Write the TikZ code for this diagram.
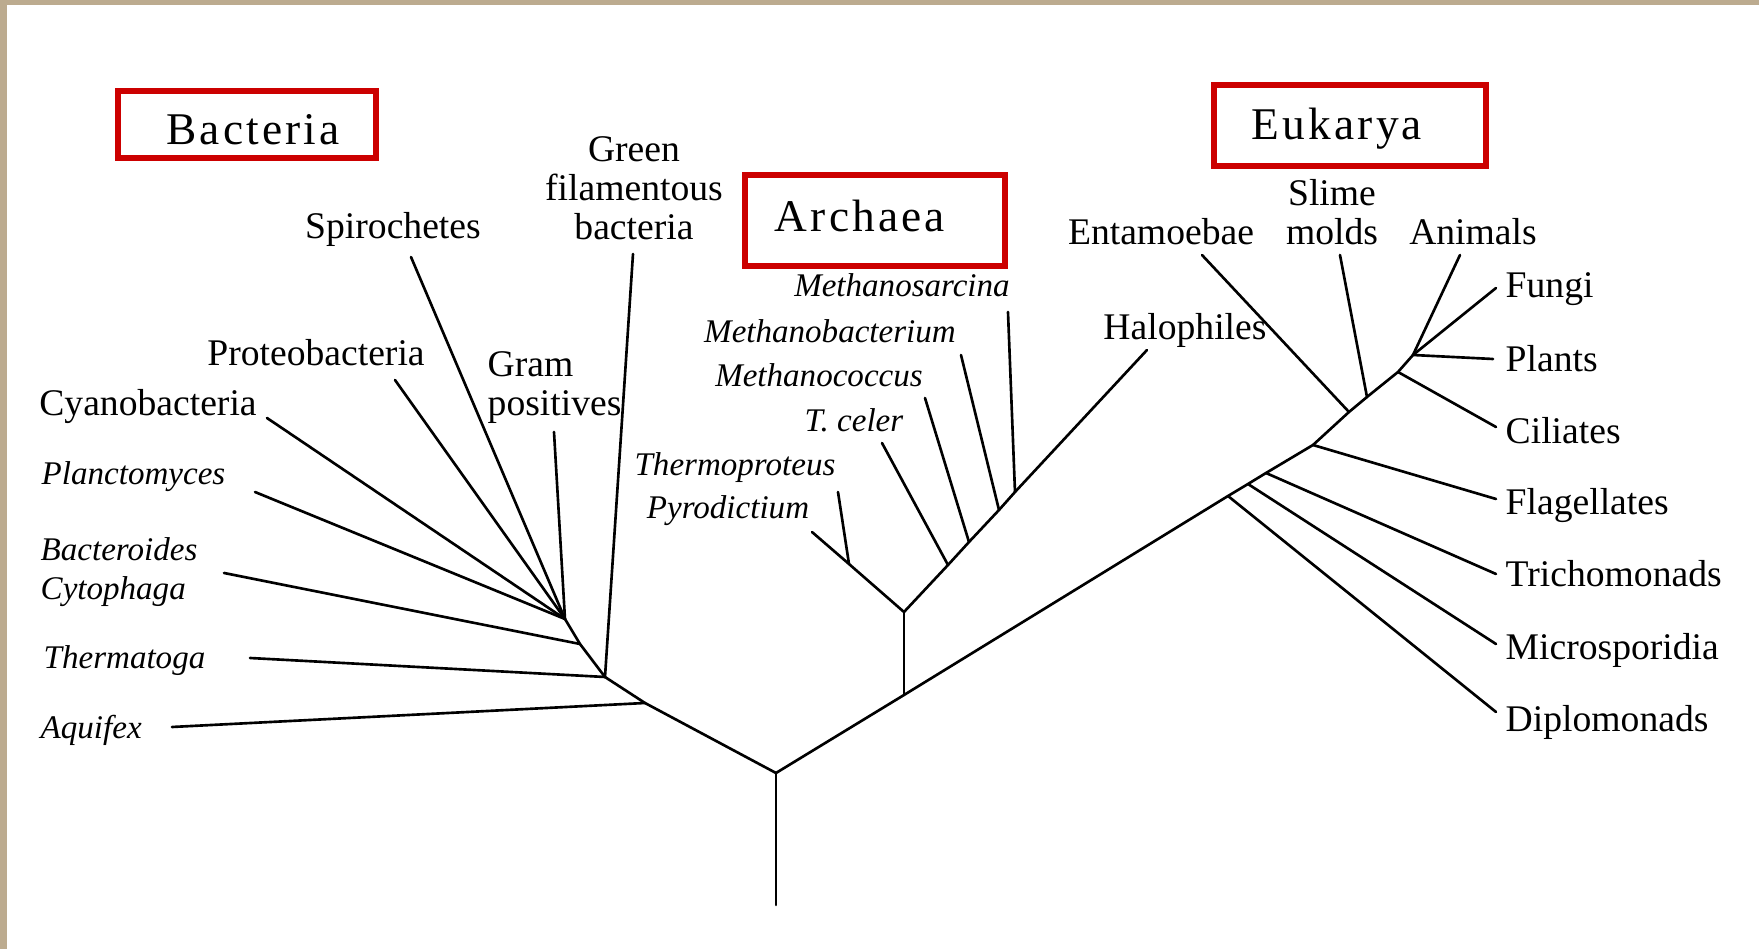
\documentclass[tikz,border=0pt]{standalone}
\usepackage{fontspec}
\setmainfont{Liberation Serif}
\newfontfamily\domainfont[LetterSpace=7]{Liberation Serif}
\usepackage{tikz}
\usepackage{xcolor}
\definecolor{tlRed}{HTML}{CC0000}
\definecolor{tlFrame}{HTML}{BCAB8F}
\tikzset{
    % Domain boxes and their titles
    domainbox/.style={draw=tlRed,line width=1.7pt},
    domainlabel/.style={font=\fontsize{12.9}{14}\domainfont,inner sep=0pt,anchor=base},
    % Taxon labels
    taxon/.style={font=\fontsize{10.7}{11.1}\selectfont,inner sep=0pt,anchor=base},
    taxonit/.style={font=\fontsize{9.4}{11.1}\selectfont\itshape,inner sep=0pt,anchor=base},
    % Tree lines
    branchline/.style={line width=0.75pt,line cap=round}
}

\begin{document}
\begin{tikzpicture}[x=0.01cm,y=-0.01cm]

% Page and frame
\fill[white] (0,0) rectangle (1759,949);
\useasboundingbox (0,0) rectangle (1759,949);
\fill[tlFrame] (0,0) rectangle (1759,5);
\fill[tlFrame] (0,0) rectangle (7,949);

% Domain titles with red frames
\node[domainlabel] at (253,145) (bacteria_title) {Bacteria};
\node[domainlabel] at (860,232) (archaea_title) {Archaea};
\node[domainlabel] at (1337,140) (eukarya_title) {Eukarya};
\draw[domainbox] (118,91) rectangle (376,158);
\draw[domainbox] (745,175) rectangle (1005,266);
\draw[domainbox] (1214,85) rectangle (1486,166);

% Bacteria labels (multi-line ones sit on their last line)
\node[taxon] at (393,239) (spiro_label) {Spirochetes};
\node[taxon,align=center] at (634,240) (green_label) {Green\\filamentous\\bacteria};
\node[taxon] at (316,366) (proteo_label) {Proteobacteria};
\node[taxon,align=left,anchor=base west] at (487,416) (gram_label) {Gram\\positives};
\node[taxon] at (148,416) (cyano_label) {Cyanobacteria};
\node[taxonit,anchor=base west] at (41,485) (plancto_label) {Planctomyces};
\node[taxonit,align=left,anchor=base west] at (40,600) (bactero_label) {Bacteroides\\Cytophaga};
\node[taxonit,anchor=base west] at (43,669) (thermato_label) {Thermatoga};
\node[taxonit,anchor=base west] at (40,739) (aquifex_label) {Aquifex};

% Archaea labels
\node[taxonit] at (902,297) (msarc_label) {Methanosarcina};
\node[taxonit] at (830,343) (mbact_label) {Methanobacterium};
\node[taxonit] at (819,387) (mcocc_label) {Methanococcus};
\node[taxonit] at (854,432) (tceler_label) {T. celer};
\node[taxonit] at (735,476) (tprot_label) {Thermoproteus};
\node[taxonit] at (728,519) (pyro_label) {Pyrodictium};
\node[taxon] at (1185,340) (halo_label) {Halophiles};

% Eukarya labels
\node[taxon] at (1161,245) (entam_label) {Entamoebae};
\node[taxon,align=center] at (1332,245) (slime_label) {Slime\\molds};
\node[taxon] at (1473,245) (animal_label) {Animals};
\node[taxon,anchor=base west] at (1505,298) (fungi_label) {Fungi};
\node[taxon,anchor=base west] at (1505,372) (plant_label) {Plants};
\node[taxon,anchor=base west] at (1505,444) (cilia_label) {Ciliates};
\node[taxon,anchor=base west] at (1505,515) (flag_label) {Flagellates};
\node[taxon,anchor=base west] at (1505,587) (tricho_label) {Trichomonads};
\node[taxon,anchor=base west] at (1505,660) (micro_label) {Microsporidia};
\node[taxon,anchor=base west] at (1505,732) (diplo_label) {Diplomonads};

% Branch points
\coordinate (root_base) at (776,905);
\coordinate (root) at (776,773);
\coordinate (bac_n4) at (645,703);
\coordinate (bac_n3) at (605,677);
\coordinate (bac_n2) at (580,644);
\coordinate (bac_n1) at (565,619);
\coordinate (arc_stem) at (904,695);
\coordinate (arc_n0) at (904,612);
\coordinate (arc_np) at (849,564);
\coordinate (arc_n1) at (948,565);
\coordinate (arc_n2) at (969,542);
\coordinate (arc_n3) at (999,510);
\coordinate (arc_n4) at (1015,492);
\coordinate (euk_n1) at (1228,496);
\coordinate (euk_n2) at (1248,484);
\coordinate (euk_n3) at (1266,473);
\coordinate (euk_n4) at (1313,445);
\coordinate (euk_n5) at (1349,412);
\coordinate (euk_n6) at (1367,397);
\coordinate (euk_n7) at (1398,372);
\coordinate (euk_top) at (1413,355);

% Branch tips
\coordinate (aquifex_tip) at (172,727);
\coordinate (thermato_tip) at (250,658);
\coordinate (green_tip) at (633,254);
\coordinate (bactero_tip) at (224,573);
\coordinate (plancto_tip) at (255,492);
\coordinate (cyano_tip) at (267,418);
\coordinate (proteo_tip) at (395,380);
\coordinate (spiro_tip) at (411,257);
\coordinate (gram_tip) at (554,432);
\coordinate (pyro_tip) at (812,532);
\coordinate (tprot_tip) at (838,492);
\coordinate (tceler_tip) at (882,443);
\coordinate (mcocc_tip) at (925,398);
\coordinate (mbact_tip) at (961,355);
\coordinate (msarc_tip) at (1008,312);
\coordinate (halo_tip) at (1147,350);
\coordinate (entam_tip) at (1202,255);
\coordinate (slime_tip) at (1340,255);
\coordinate (animal_tip) at (1460,255);
\coordinate (fungi_tip) at (1496,288);
\coordinate (plant_tip) at (1493,359);
\coordinate (cilia_tip) at (1496,427);
\coordinate (flag_tip) at (1496,499);
\coordinate (tricho_tip) at (1496,574);
\coordinate (micro_tip) at (1496,644);
\coordinate (diplo_tip) at (1496,712);

% Trunk
\draw[branchline] (root_base) -- (root);

% Bacteria
\draw[branchline] (root) -- (bac_n4) -- (bac_n3) -- (bac_n2) -- (bac_n1);
\draw[branchline] (aquifex_tip) -- (bac_n4);
\draw[branchline] (thermato_tip) -- (bac_n3);
\draw[branchline] (green_tip) -- (bac_n3);
\draw[branchline] (bactero_tip) -- (bac_n2);
\foreach \t in {plancto_tip,cyano_tip,proteo_tip,spiro_tip,gram_tip}
    \draw[branchline] (\t) -- (bac_n1);

% Archaea and Eukarya
\draw[branchline] (root) -- (arc_stem) -- (euk_n1) -- (euk_n2) -- (euk_n3) -- (euk_n4) -- (euk_n5) -- (euk_n6) -- (euk_n7) -- (euk_top);
\draw[branchline] (arc_stem) -- (arc_n0);
\draw[branchline] (pyro_tip) -- (arc_np) -- (arc_n0) -- (arc_n1) -- (arc_n2) -- (arc_n3) -- (arc_n4) -- (halo_tip);
\draw[branchline] (tprot_tip) -- (arc_np);
\draw[branchline] (tceler_tip) -- (arc_n1);
\draw[branchline] (mcocc_tip) -- (arc_n2);
\draw[branchline] (mbact_tip) -- (arc_n3);
\draw[branchline] (msarc_tip) -- (arc_n4);

% Eukarya tips
\draw[branchline] (diplo_tip) -- (euk_n1);
\draw[branchline] (micro_tip) -- (euk_n2);
\draw[branchline] (tricho_tip) -- (euk_n3);
\draw[branchline] (flag_tip) -- (euk_n4);
\draw[branchline] (entam_tip) -- (euk_n5);
\draw[branchline] (slime_tip) -- (euk_n6);
\draw[branchline] (cilia_tip) -- (euk_n7);
\foreach \t in {animal_tip,fungi_tip,plant_tip}
    \draw[branchline] (\t) -- (euk_top);

\end{tikzpicture}
\end{document}
